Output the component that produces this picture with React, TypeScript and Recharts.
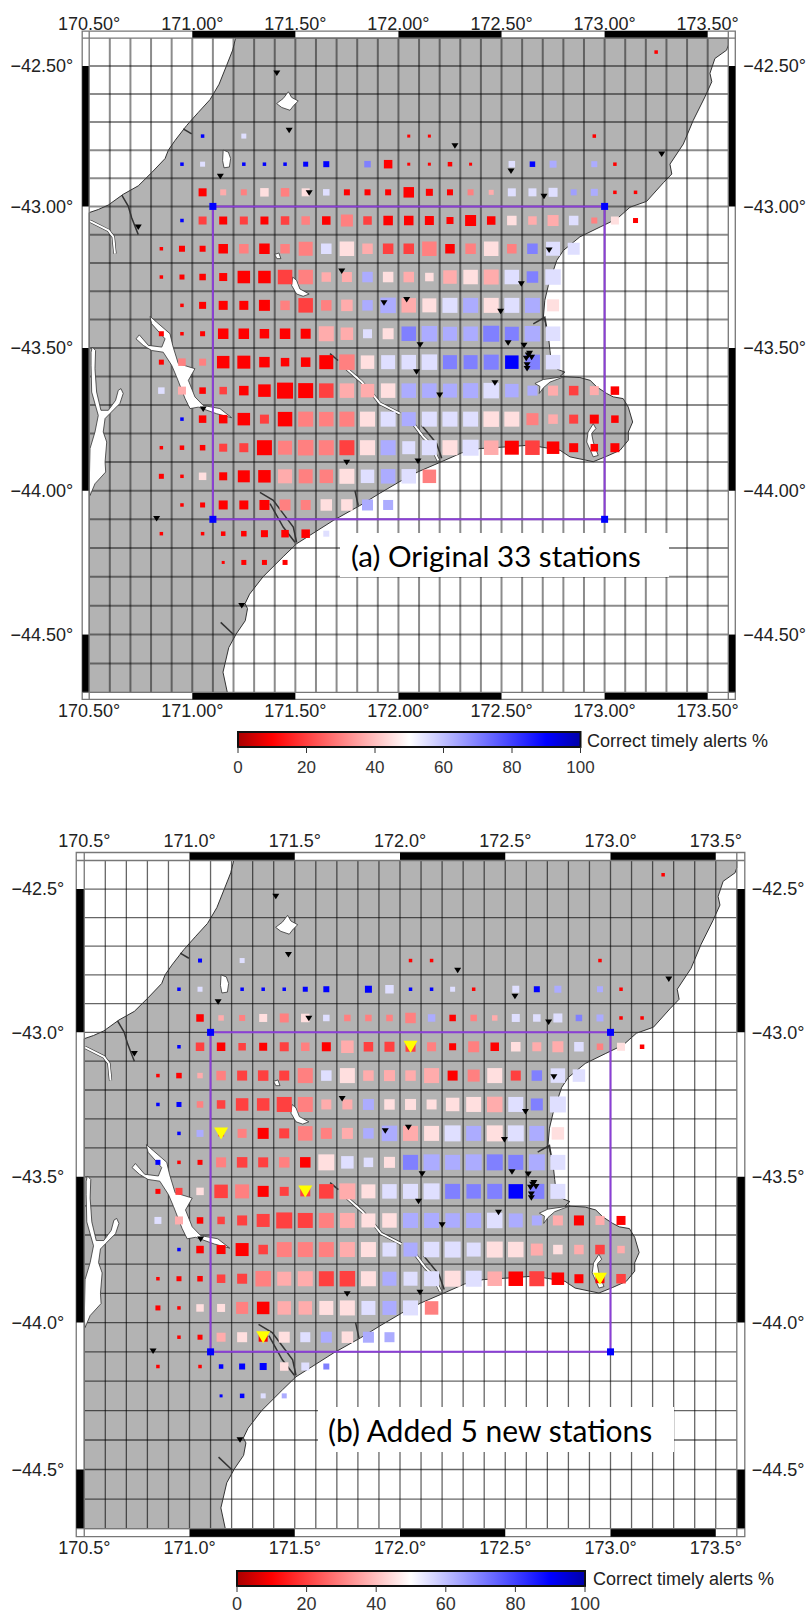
import { ReferenceArea, Scatter, ScatterChart, XAxis, YAxis } from "recharts";

// Map is a GMT Mercator plot: longitudes are linear, latitudes go through toY().
const toY = (lat: number) => -Math.log(Math.tan(Math.PI / 4 + (Math.abs(lat) * Math.PI) / 360));

const LON_MIN = 170.5;
const LON_MAX = 173.6;
const LAT_TOP = -42.4;
const LAT_BOTTOM = -44.7;

const LON_TICKS = [170.5, 171, 171.5, 172, 172.5, 173, 173.5];
const LAT_TICKS = [-42.5, -43, -43.5, -44, -44.5];
const LON_BLACK = [[171, 171.5], [172, 172.5], [173, 173.5]];
const LAT_BLACK = [[-42.5, -43], [-43.5, -44], [-44.5, -44.7]];
const GRID_LONS = [170.6, 170.7, 170.8, 170.9, 171, 171.1, 171.2, 171.3, 171.4, 171.5, 171.6, 171.7, 171.8, 171.9, 172, 172.1, 172.2, 172.3, 172.4, 172.5, 172.6, 172.7, 172.8, 172.9, 173, 173.1, 173.2, 173.3, 173.4, 173.5];
const GRID_LATS = [-42.5, -42.6, -42.7, -42.8, -42.9, -43, -43.1, -43.2, -43.3, -43.4, -43.5, -43.6, -43.7, -43.8, -43.9, -44, -44.1, -44.2, -44.3, -44.4, -44.5, -44.6];

const COLORBAR_TICKS = [0, 20, 40, 60, 80, 100];
const COLOR_STOPS: [number, number[]][] = [
  [0, [168, 0, 0]],
  [10, [255, 0, 0]],
  [50, [255, 255, 255]],
  [90, [0, 0, 255]],
  [100, [0, 0, 168]],
];

// [lon, lat]
const LAND: number[][] = [
  [171.21, -42.4], [171.196, -42.443], [171.167, -42.497], [171.13, -42.565], [171.086, -42.62], [171.03, -42.665], [170.973, -42.712], [170.916, -42.766], [170.884, -42.8], [170.868, -42.83], [170.803, -42.88], [170.738, -42.927], [170.665, -42.957], [170.593, -42.995], [170.544, -43.011], [170.5, -43.022],
  [170.5, -44.7], [171.17, -44.7], [171.149, -44.63], [171.177, -44.545], [171.213, -44.498], [171.257, -44.452], [171.268, -44.41], [171.256, -44.393], [171.278, -44.36], [171.343, -44.3], [171.441, -44.23], [171.506, -44.185], [171.684, -44.104], [171.813, -44.052], [171.91, -44.009], [172.007, -43.968], [172.096, -43.934], [172.193, -43.904], [172.307, -43.868], [172.395, -43.853], [172.525, -43.847], [172.638, -43.841], [172.784, -43.859], [172.832, -43.882], [172.945, -43.899], [173.01, -43.88], [173.075, -43.859], [173.115, -43.824], [173.115, -43.795], [173.136, -43.76], [173.115, -43.708], [173.09, -43.678], [173.042, -43.672], [173.01, -43.66], [172.962, -43.637], [172.93, -43.614], [172.88, -43.604], [172.784, -43.6], [172.807, -43.585], [172.775, -43.576], [172.743, -43.561], [172.735, -43.509], [172.727, -43.456], [172.71, -43.403], [172.703, -43.392], [172.71, -43.332], [172.727, -43.28], [172.768, -43.191], [172.8, -43.156], [172.88, -43.108], [172.978, -43.073], [173.06, -43.044], [173.123, -43.003], [173.204, -42.982], [173.285, -42.916], [173.326, -42.885], [173.317, -42.85], [173.382, -42.778], [173.43, -42.694], [173.487, -42.61], [173.52, -42.556], [173.511, -42.526], [173.535, -42.473], [173.592, -42.443], [173.6, -42.425], [173.6, -42.4],
];

const LAKES: number[][][] = [
  [[171.409, -42.634], [171.441, -42.616], [171.466, -42.592], [171.482, -42.612], [171.514, -42.625], [171.493, -42.64], [171.474, -42.658], [171.434, -42.648]],
  [[171.15, -42.8], [171.175, -42.807], [171.186, -42.83], [171.18, -42.86], [171.154, -42.863], [171.147, -42.837]],
  [[171.487, -43.25], [171.506, -43.262], [171.522, -43.292], [171.567, -43.31], [171.538, -43.318], [171.506, -43.31], [171.482, -43.28]],
  [[171.4, -43.17], [171.42, -43.165], [171.43, -43.185], [171.41, -43.185]],
  [[170.795, -43.389], [170.827, -43.409], [170.892, -43.45], [170.905, -43.491], [170.932, -43.555], [171.013, -43.573], [170.981, -43.614], [171.013, -43.672], [171.053, -43.702], [171.134, -43.713], [171.191, -43.745], [171.118, -43.731], [171.029, -43.708], [170.989, -43.713], [170.965, -43.678], [170.924, -43.602], [170.9, -43.561], [170.859, -43.515], [170.803, -43.509], [170.762, -43.491], [170.727, -43.468], [170.743, -43.454], [170.787, -43.491], [170.852, -43.497], [170.868, -43.468], [170.803, -43.415]],
  [[170.515, -43.497], [170.531, -43.509], [170.528, -43.573], [170.536, -43.655], [170.557, -43.719], [170.593, -43.719], [170.628, -43.684], [170.641, -43.649], [170.654, -43.643], [170.665, -43.66], [170.649, -43.695], [170.601, -43.73], [170.577, -43.748], [170.568, -43.795], [170.585, -43.83], [170.577, -43.9], [170.58, -43.935], [170.528, -43.976], [170.504, -44.017], [170.5, -43.988], [170.504, -43.853], [170.528, -43.795], [170.544, -43.737], [170.512, -43.655], [170.509, -43.561], [170.509, -43.515]],
  [[172.662, -43.625], [172.703, -43.611], [172.808, -43.6], [172.735, -43.62], [172.703, -43.64], [172.683, -43.66], [172.686, -43.635]],
  [[172.945, -43.766], [172.958, -43.783], [172.937, -43.8], [172.945, -43.83], [172.969, -43.877], [172.945, -43.882], [172.913, -43.83], [172.92, -43.795]],
];

const WIDE_RIVERS: number[][][] = [
  [[170.504, -43.052], [170.593, -43.085], [170.617, -43.108], [170.625, -43.167]],
  [[171.749, -43.573], [171.822, -43.62], [171.878, -43.666], [171.91, -43.695], [172.007, -43.731]],
  [[172.072, -43.766], [172.12, -43.812], [172.153, -43.835], [172.193, -43.894]],
];

const THIN_RIVERS: number[][][] = [
  [[170.658, -42.96], [170.69, -43.0], [170.706, -43.04], [170.738, -43.1]],
  [[170.956, -42.724], [170.997, -42.742]],
  [[172.113, -43.772], [172.185, -43.835], [172.21, -43.887]],
  [[171.328, -44.006], [171.393, -44.034], [171.441, -44.08], [171.49, -44.127], [171.506, -44.18]],
  [[171.377, -44.045], [171.441, -44.127], [171.498, -44.18]],
  [[171.789, -44.0], [171.805, -44.052]],
  [[171.668, -43.52], [171.707, -43.544]],
  [[172.654, -43.415], [172.71, -43.392], [172.719, -43.43]],
  [[171.138, -44.458], [171.2, -44.5]],
];

const BOX = [[171.1, -43.0], [173.0, -43.0], [173.0, -44.1], [171.1, -44.1], [171.1, -43.0]];
const BOX_CORNERS = [[171.1, -43.0], [173.0, -43.0], [173.0, -44.1], [171.1, -44.1]];

const STATIONS = [
  [171.41, -42.526], [171.47, -42.73], [171.136, -42.894], [171.567, -42.952], [170.738, -43.074], [171.725, -43.23], [171.93, -43.342], [172.04, -43.33], [172.274, -42.785], [172.546, -42.875], [173.277, -42.815], [172.706, -42.965], [172.731, -43.155], [172.596, -43.275], [172.496, -43.372], [171.053, -43.715], [171.749, -43.902], [170.827, -44.098], [172.105, -43.49], [172.532, -43.483], [172.609, -43.491], [172.63, -43.526], [172.646, -43.534], [172.62, -43.537], [172.636, -43.52], [172.624, -43.56], [172.624, -43.573], [172.088, -43.585], [172.468, -43.623], [172.2, -43.666], [172.095, -43.897], [171.24, -44.4],
];
const NEW_STATIONS = [[172.05, -43.05], [171.15, -43.35], [171.55, -43.55], [171.35, -44.05], [172.95, -43.85]];

const _ = null;
type Row = [number, number, (number | null)[], (number | null)[]];
// lat, first lon, correct timely alerts %, symbol weight
const ROWS_A: Row[] = [
  [-42.45, 173.25, [10], [3.5]],
  [-42.75, 171.05, [90, _, 55, _, _, _, _, _, _, _, 10, 10, _, _, _, _, _, _, _, 10], [3.5, _, 5, _, _, _, _, _, _, _, 3, 3, _, _, _, _, _, _, _, 3.5]],
  [-42.85, 170.95, [90, 55, _, 90, 90, 90, 90, 90, _, 70, 10, 10, 10, 10, 10, _, 55, 90, 63, _, 63, 10], [3.5, 5, _, 3.5, 3.5, 3.5, 5, 6, _, 6.5, 8.5, 3, 3, 4.5, 3, _, 6.5, 5.5, 7, _, 6, 3.5]],
  [-42.95, 171.05, [10, 37, 30, 45, 30, 45, 55, 10, 10, 10, 10, 10, 10, 30, 37, 55, 55, 55, 65, 63, 10, 10], [8, 6, 6, 8.5, 8.5, 8, 6.5, 6, 6, 6, 10.5, 7, 6, 6, 5, 8, 8, 9, 6, 7, 3.5, 3.5]],
  [-43.05, 170.95, [90, 20, 10, 20, 10, 20, 30, 10, 30, 20, 10, 10, 10, 10, 10, 10, 45, 37, 37, 55, 30, 45, 10], [3.5, 8, 8, 8, 8, 8.5, 8.5, 8.5, 12, 8.5, 9.5, 9.5, 9, 7, 11, 8.5, 9.5, 8.5, 11, 9.5, 6, 8, 5]],
  [-43.15, 170.85, [10, 10, 10, 10, 30, 10, 30, 30, 55, 45, 37, 20, 20, 30, 10, 30, 45, 30, 70, 55, 55], [3.5, 6, 6, 9.5, 9.5, 10.5, 9.5, 14, 10.5, 14.5, 10.5, 10.5, 10.5, 14.5, 9.5, 10.5, 14.5, 9.5, 10.5, 14, 12]],
  [-43.25, 170.85, [10, 10, 10, 10, 10, 10, 20, 30, 37, 37, 63, 45, 37, 45, 37, 45, 37, 55, 70, 55], [3.5, 5, 6.5, 8, 12.5, 12.5, 14.5, 14.5, 9.5, 10, 10.5, 10.5, 10.5, 8.5, 13.5, 14.5, 15, 14.5, 11.5, 15.5]],
  [-43.35, 170.95, [10, 10, 10, 10, 10, 30, 20, 30, 37, 63, 63, 37, 45, 55, 63, 45, 55, 63, 45], [3.5, 7, 9, 9, 11, 9.5, 14.5, 10.5, 11.5, 10.5, 15.5, 14.5, 14, 15, 15, 15, 15, 15, 12]],
  [-43.45, 170.85, [10, 10, 10, 10, 10, 10, 10, 10, 37, 37, 55, 45, 70, 63, 63, 63, 70, 70, 63, 55], [5, 3.5, 5, 10.5, 10.5, 9.5, 10.5, 10, 15, 12.5, 9, 11, 14.5, 15.5, 14, 14.5, 16, 14, 15.5, 14.5]],
  [-43.55, 170.85, [10, 30, 30, 10, 10, 10, 10, 10, 10, 30, 45, 55, 55, 55, 70, 70, 70, 90, 70, 55], [5, 7.5, 7, 12.5, 13, 10.5, 8.5, 9.5, 14, 15.5, 13.5, 14, 14.5, 15.5, 14, 14, 15, 13.5, 15, 14.5]],
  [-43.65, 170.85, [55, 37, 10, 20, 10, 10, 10, 10, 20, 37, 37, 45, 63, 63, 63, 63, 55, 63, 63, 37, 20, 37, 10], [6.5, 8, 6.5, 7.5, 9.5, 12.5, 16, 15, 14.5, 14.5, 13.5, 14.5, 14.5, 14.5, 14, 15, 15.5, 13.5, 10, 10, 9.5, 9, 8.5]],
  [-43.75, 170.95, [90, 10, 10, 10, 20, 10, 30, 30, 30, 45, 55, 63, 55, 55, 55, 45, 45, 30, 37, 20, 10, 10], [3.5, 7.5, 8.5, 12.5, 9, 14.5, 15, 14.5, 15, 15, 15, 14, 15, 15, 15, 15.5, 15, 12, 9.5, 9, 9, 7.5]],
  [-43.85, 170.85, [10, 10, 10, 20, 20, 10, 30, 30, 30, 20, 45, 63, 55, 55, 45, 55, 37, 10, 20, 10, 10, 10, 10], [3.5, 4.5, 5.5, 8, 9, 15, 14, 15.5, 15, 15, 15, 15, 13, 15, 15, 16, 14.5, 14, 14.5, 12.5, 9, 7.5, 9]],
  [-43.95, 170.85, [10, 10, 45, 10, 10, 10, 37, 30, 30, 45, 55, 63, 55, 30], [5, 3.5, 7.5, 8, 12, 12.5, 14, 14, 13.5, 15, 13.5, 14.5, 14.5, 13.5]],
  [-44.05, 170.95, [10, 10, 10, 10, 10, 30, 30, 45, 45, 63, 63], [3.5, 5, 9, 9, 10, 11, 10, 11.5, 11.5, 11, 10]],
  [-44.15, 170.85, [10, _, 10, 10, 10, 10, 10, 10, 55], [3.5, _, 3.5, 4.5, 5.5, 7, 7.5, 8.5, 6]],
  [-44.25, 171.15, [10, 10, 10, 10], [3, 5, 5, 5]],
];

const ROWS_B: Row[] = [
  [-42.45, 173.25, [10], [3.5]],
  [-42.75, 171.05, [90, _, 55, _, _, _, _, _, _, _, 10, 10, _, _, _, _, _, _, _, 10], [4, _, 5, _, _, _, _, _, _, _, 3.5, 3.5, _, _, _, _, _, _, _, 3.5]],
  [-42.85, 170.95, [90, 55, _, 90, 90, 90, 90, 90, _, 90, 55, 90, 90, 55, 10, _, 55, 90, 63, _, 63, 10], [3.5, 5, _, 3.5, 3.5, 3.5, 5, 6, _, 7, 8.5, 3.5, 3.5, 5, 3.5, _, 7, 6, 7, _, 6, 3.5]],
  [-42.95, 171.05, [10, 37, 30, 45, 30, 45, 55, 30, 30, 30, 30, 63, 10, 30, 37, 55, 55, 55, 70, 63, 10, 10], [7.5, 5.5, 6, 8, 9, 8.5, 6.5, 6.5, 6.5, 6.5, 10.5, 7.5, 6.5, 6.5, 5.5, 8, 7.5, 9, 6.5, 7, 3.5, 3.5]],
  [-43.05, 170.95, [90, 20, 10, 20, 10, 20, 30, 10, 37, 20, 20, 20, 30, 10, 30, 10, 45, 37, 37, 55, 30, 45, 10], [3.5, 8.5, 8.5, 7.5, 8, 9, 8.5, 9, 12.5, 9.5, 10, 10, 9, 7, 11, 8.5, 9.5, 9, 11, 9.5, 6.5, 8, 4.5]],
  [-43.15, 170.85, [10, 10, 37, 30, 20, 20, 20, 30, 55, 45, 37, 37, 37, 37, 10, 30, 45, 20, 70, 55, 55], [3.5, 5.5, 5.5, 9.5, 10, 10.5, 10, 15, 10.5, 15, 10.5, 11, 10.5, 15, 10, 12, 15, 10, 10.5, 14.5, 12.5]],
  [-43.25, 170.85, [90, 90, 30, 20, 20, 20, 20, 30, 37, 37, 63, 45, 45, 45, 45, 45, 37, 55, 70, 55], [3.5, 5, 6.5, 8.5, 12.5, 12.5, 15, 15, 10, 10, 11, 10.5, 11, 10, 13.5, 15, 15.5, 15, 12, 16]],
  [-43.35, 170.95, [90, 63, 20, 30, 10, 20, 30, 30, 37, 63, 63, 37, 45, 55, 63, 45, 55, 63, 45], [3.5, 7, 6, 9, 11, 10, 14.5, 11, 11, 10.5, 15.5, 15, 15, 16, 15, 16, 16, 15, 12.5]],
  [-43.45, 170.85, [90, 10, 10, 30, 20, 20, 30, 10, 45, 55, 55, 45, 70, 63, 63, 63, 70, 70, 63, 55], [5, 3.5, 5, 10, 10.5, 10, 10.5, 10.5, 16, 12.5, 9.5, 11, 15, 16, 15, 16, 16, 15, 16, 15]],
  [-43.55, 170.85, [10, 20, 45, 20, 30, 10, 20, 20, 20, 37, 45, 55, 55, 55, 70, 70, 70, 90, 70, 55], [5, 7, 7.5, 13.5, 14, 11, 9, 10, 14.5, 16, 14, 14.5, 15, 16, 15, 14.5, 15, 14.5, 15, 15]],
  [-43.65, 170.85, [55, 37, 10, 20, 20, 20, 20, 20, 30, 37, 45, 45, 63, 63, 63, 63, 55, 63, 63, 37, 10, 37, 10], [7, 8, 6.5, 7.5, 10, 13, 16, 15, 15, 15, 14, 14.5, 15, 15, 14.5, 15, 15.5, 14, 10, 10, 10, 9, 9]],
  [-43.75, 170.95, [90, 10, 10, 10, 20, 30, 30, 30, 37, 45, 55, 63, 55, 55, 55, 45, 45, 37, 45, 37, 20, 37], [3.5, 7.5, 9, 13, 9.5, 15, 15, 15, 15, 15, 14, 14, 15.5, 16, 14, 16, 15.5, 12, 9.5, 9.5, 9.5, 7.5]],
  [-43.85, 170.85, [10, 10, 10, 20, 20, 30, 37, 37, 20, 20, 45, 63, 55, 55, 45, 55, 37, 10, 20, 10, 10, 10, 20], [3.5, 5, 5.5, 8.5, 10, 15.5, 14, 15, 15, 15.5, 15, 14, 14, 15, 16, 16, 14.5, 14.5, 15, 12.5, 9, 9, 9.5]],
  [-43.95, 170.85, [10, 10, 45, 45, 30, 10, 37, 37, 45, 45, 55, 63, 55, 30], [5, 3.5, 7.5, 8, 12, 12.5, 13.5, 13.5, 14, 15, 14, 14, 15, 13.5]],
  [-44.05, 170.95, [10, 10, 37, 45, 10, 45, 55, 63, 45, 63, 63], [3.5, 5, 9, 10, 9, 11, 10, 11, 11.5, 11, 10]],
  [-44.15, 170.85, [10, _, 10, 90, 90, 90, 45, 55, 70], [3.5, _, 3.5, 4.5, 6, 7, 8.5, 8, 6]],
  [-44.25, 171.15, [90, 90, 55, 63], [3, 4.5, 5, 5]],
];

function pctColor(v: number): string {
  for (let i = 1; i < COLOR_STOPS.length; i++) {
    const [p0, c0] = COLOR_STOPS[i - 1];
    const [p1, c1] = COLOR_STOPS[i];
    if (v <= p1) {
      const t = (v - p0) / (p1 - p0);
      return `rgb(${c0.map((c, k) => Math.round(c + (c1[k] - c) * t)).join(",")})`;
    }
  }
  return "#0000a8";
}

const pts = (list: number[][]) => list.map(([lon, lat]) => ({ lon, y: toY(lat) }));

function cells(rows: Row[]) {
  const out: { lon: number; y: number; pct: number; side: number }[] = [];
  for (const [lat, lon0, pct, side] of rows) {
    pct.forEach((p, i) => {
      if (p !== null) out.push({ lon: lon0 + i * 0.1, y: toY(lat), pct: p, side: side[i] as number });
    });
  }
  return out;
}

const noDot = () => <g />;

const polygon = (fill: string, stroke: string, sw: number) => (props: any) => {
  if (!props.points || props.points.length === 0) return <g />;
  const d = "M" + props.points.map((p: any) => `${p.x},${p.y}`).join("L") + "Z";
  return <path d={d} fill={fill} stroke={stroke} strokeWidth={sw} strokeLinejoin="round" />;
};

const square = (p: any) => {
  const s = p.payload.side;
  return <rect x={p.cx - s / 2} y={p.cy - s / 2} width={s} height={s} fill={pctColor(p.payload.pct)} />;
};

const triangle = (w: number, h: number, fill: string) => (p: any) => (
  <path d={`M${p.cx - w / 2},${p.cy - h / 2}L${p.cx + w / 2},${p.cy - h / 2}L${p.cx},${p.cy + h / 2}Z`} fill={fill} />
);

const corner = (p: any) => <rect x={p.cx - 3.5} y={p.cy - 3.5} width={7} height={7} fill="#0000ff" />;

const TICK = { fontSize: 18, fill: "#222", fontFamily: "'Liberation Sans', Arial, sans-serif" };

interface MapProps {
  top: number;
  height: number;
  x0: number; // pixel of LON_MIN
  y0: number; // pixel of LAT_TOP
  k: number; // pixels per degree of longitude
  band: number;
  digits: number;
  rows: Row[];
  extra?: number[][];
  grid: [string, number];
  gaps: { top: number; bottom: number; left: number; right: number };
}

function MapPanel({ top, height, x0, y0, k, band, digits, rows, extra, grid, gaps }: MapProps) {
  const width = 810;
  const kMerc = (k * 180) / Math.PI;
  const bandLon = band / k;
  const bandY = band / kMerc;
  const bandLat = band / (k * 1.37);
  const yLo = toY(LAT_BOTTOM);
  const yHi = toY(LAT_TOP);
  const left = x0 - band;
  const plotW = (LON_MAX - LON_MIN) * k + 2 * band;
  const topPad = y0 - band - top;
  const plotH = (yHi - yLo) * kMerc + 2 * band;
  const xDomain = [LON_MIN - bandLon, LON_MAX + bandLon];
  const yDomain = [yLo - bandY, yHi + bandY];
  const ax = { xAxisId: "b", yAxisId: "l" };
  const lonLabel = (v: number) => `${v.toFixed(digits)}°`;
  const latLabel = (_v: number, i: number) => `−${Math.abs(LAT_TICKS[i]).toFixed(digits)}°`;

  const seg = (key: string, list: number[][], stroke: string, w: number) => (
    <Scatter key={key} {...ax} data={pts(list)} shape={noDot} line={{ stroke, strokeWidth: w, fill: "none" }} isAnimationActive={false} />
  );

  return (
    <div style={{ position: "absolute", left: 0, top, width, height }}>
      <ScatterChart width={width} height={height} margin={{ top: 0, right: 0, bottom: 0, left: 0 }}>
        <XAxis xAxisId="t" orientation="top" type="number" dataKey="lon" domain={xDomain} ticks={LON_TICKS} height={topPad} interval={0}
          axisLine={false} tickLine={false} tickSize={0} tickMargin={gaps.top} tick={TICK} tickFormatter={lonLabel} allowDataOverflow />
        <XAxis xAxisId="b" orientation="bottom" type="number" dataKey="lon" domain={xDomain} ticks={LON_TICKS} height={height - topPad - plotH} interval={0}
          axisLine={false} tickLine={false} tickSize={0} tickMargin={gaps.bottom} tick={TICK} tickFormatter={lonLabel} allowDataOverflow />
        <YAxis yAxisId="l" orientation="left" type="number" dataKey="y" domain={yDomain} ticks={LAT_TICKS.map(toY)} width={left} interval={0}
          axisLine={false} tickLine={false} tickSize={0} tickMargin={gaps.left} tick={TICK} tickFormatter={latLabel} allowDataOverflow />
        <YAxis yAxisId="r" orientation="right" type="number" dataKey="y" domain={yDomain} ticks={LAT_TICKS.map(toY)} width={width - left - plotW} interval={0}
          axisLine={false} tickLine={false} tickSize={0} tickMargin={gaps.right} tick={TICK} tickFormatter={latLabel} allowDataOverflow />

        {/* keeps the top and right axes tied to a series */}
        <Scatter xAxisId="t" yAxisId="r" data={pts(BOX_CORNERS)} shape={noDot} isAnimationActive={false} />

        <Scatter {...ax} data={pts(LAND)} shape={noDot} line={polygon("#b3b3b3", "none", 0)} isAnimationActive={false} />

        {GRID_LONS.map((lon) => seg(`gx${lon}`, [[lon, LAT_TOP], [lon, LAT_BOTTOM]], grid[0], grid[1]))}
        {GRID_LATS.map((lat) => seg(`gy${lat}`, [[LON_MIN, lat], [LON_MAX, lat]], grid[0], grid[1]))}

        {LAKES.map((lake, i) => (
          <Scatter key={`lake${i}`} {...ax} data={pts(lake)} shape={noDot} line={polygon("#ffffff", "#333", 0.8)} isAnimationActive={false} />
        ))}
        {WIDE_RIVERS.map((r, i) => seg(`wb${i}`, r, "#333", 3.2))}
        {WIDE_RIVERS.map((r, i) => seg(`ww${i}`, r, "#fff", 2))}
        {THIN_RIVERS.map((r, i) => seg(`rb${i}`, r, "#333", 1.5))}
        <Scatter {...ax} data={pts(LAND)} shape={noDot} line={polygon("none", "#333", 1)} isAnimationActive={false} />

        {/* Frame: outer box, inner box, alternating black bars */}
        <ReferenceArea xAxisId="b" yAxisId="l" x1={xDomain[0]} x2={xDomain[1]} y1={yDomain[0]} y2={yDomain[1]} fill="none" stroke="#777" strokeWidth={1.3} ifOverflow="visible" />
        {LON_BLACK.map(([a, b]) => (
          <ReferenceArea key={`tb${a}`} xAxisId="b" yAxisId="l" x1={a} x2={b} y1={yHi} y2={yDomain[1]} fill="#000" fillOpacity={1} stroke="none" ifOverflow="visible" />
        ))}
        {LON_BLACK.map(([a, b]) => (
          <ReferenceArea key={`bb${a}`} xAxisId="b" yAxisId="l" x1={a} x2={b} y1={yDomain[0]} y2={yLo} fill="#000" fillOpacity={1} stroke="none" ifOverflow="visible" />
        ))}
        {LAT_BLACK.map(([a, b]) => (
          <ReferenceArea key={`lb${a}`} xAxisId="b" yAxisId="l" x1={xDomain[0]} x2={LON_MIN} y1={toY(a)} y2={toY(b)} fill="#000" fillOpacity={1} stroke="none" ifOverflow="visible" />
        ))}
        {LAT_BLACK.map(([a, b]) => (
          <ReferenceArea key={`rb${a}`} xAxisId="b" yAxisId="l" x1={LON_MAX} x2={xDomain[1]} y1={toY(a)} y2={toY(b)} fill="#000" fillOpacity={1} stroke="none" ifOverflow="visible" />
        ))}
        {seg("e1", [[LON_MIN, LAT_TOP + bandLat], [LON_MIN, LAT_BOTTOM - bandLat]], "#777", 1.3)}
        {seg("e2", [[LON_MAX, LAT_TOP + bandLat], [LON_MAX, LAT_BOTTOM - bandLat]], "#777", 1.3)}
        {seg("e3", [[LON_MIN - bandLon, LAT_TOP], [LON_MAX + bandLon, LAT_TOP]], "#777", 1.3)}
        {seg("e4", [[LON_MIN - bandLon, LAT_BOTTOM], [LON_MAX + bandLon, LAT_BOTTOM]], "#777", 1.3)}

        {seg("box", BOX, "#8b3fd6", 2)}
        <Scatter {...ax} data={cells(rows)} shape={square} isAnimationActive={false} />
        <Scatter {...ax} data={pts(STATIONS)} shape={triangle(7, 5.5, "#000")} isAnimationActive={false} />
        {extra && <Scatter {...ax} data={pts(extra)} shape={triangle(14, 12, "#ffff00")} isAnimationActive={false} />}
        <Scatter {...ax} data={pts(BOX_CORNERS)} shape={corner} isAnimationActive={false} />
      </ScatterChart>
    </div>
  );
}

function ColorBar({ id, left, top, width, fontSize, gap }: { id: string; left: number; top: number; width: number; fontSize: number; gap: number }) {
  return (
    <div style={{ position: "absolute", left: left - 30, top: top - 5, width: width + 60, height: 56 }}>
      <ScatterChart width={width + 60} height={56} margin={{ top: 5, right: 30, bottom: 0, left: 30 }}>
        <defs>
          <linearGradient id={id} x1="0" y1="0" x2="1" y2="0">
            {COLOR_STOPS.map(([p, c]) => (
              <stop key={p} offset={`${p}%`} stopColor={`rgb(${c.join(",")})`} />
            ))}
          </linearGradient>
        </defs>
        <XAxis type="number" dataKey="v" domain={[0, 100]} ticks={COLORBAR_TICKS} height={36} interval={0} axisLine={false}
          tickLine={{ stroke: "#333" }} tickSize={6} tickMargin={gap} tick={{ ...TICK, fontSize, fill: "#333" }} />
        <YAxis type="number" dataKey="w" domain={[0, 1]} hide />
        <Scatter data={COLORBAR_TICKS.map((v) => ({ v, w: 0 }))} shape={noDot} isAnimationActive={false} />
        <ReferenceArea x1={0} x2={100} y1={0} y2={1} fill={`url(#${id})`} fillOpacity={1} stroke="#111" strokeWidth={2} ifOverflow="visible" />
      </ScatterChart>
    </div>
  );
}

const noteStyle: React.CSSProperties = {
  position: "absolute",
  background: "#fff",
  fontFamily: "Lato, 'Open Sans', sans-serif",
  color: "#000",
  whiteSpace: "nowrap",
  display: "flex",
  alignItems: "center",
};

const legendStyle: React.CSSProperties = {
  position: "absolute",
  fontFamily: "'Liberation Sans', Arial, sans-serif",
  fontSize: 18,
  color: "#222",
  whiteSpace: "nowrap",
  lineHeight: "20px",
};

export default function App() {
  return (
    <div style={{ position: "absolute", left: 0, top: 0, width: 810, height: 1617, background: "#fff", overflow: "hidden" }}>
      <MapPanel top={0} height={725} x0={89.2} y0={38.1} k={206.16} band={7} digits={2} rows={ROWS_A} grid={["rgba(0,0,0,0.45)", 2]} gaps={{ top: 1, bottom: 5, left: 9, right: 8 }} />
      <ColorBar id="cbarA" left={238} top={732} width={342.5} fontSize={17} gap={8} />
      <div style={{ ...legendStyle, left: 587, top: 731 }}>Correct timely alerts %</div>
      <div style={{ ...noteStyle, left: 340, top: 533, width: 329, height: 44, fontSize: 29.5, paddingLeft: 11, boxSizing: "border-box" }}>(a) Original 33 stations</div>

      <MapPanel top={805} height={765} x0={84.25} y0={860.5} k={210.5} band={8} digits={1} rows={ROWS_B} extra={NEW_STATIONS} grid={["rgba(0,0,0,0.6)", 1.3]} gaps={{ top: 5.5, bottom: 4.5, left: 12, right: 7 }} />
      <ColorBar id="cbarB" left={236.5} top={1570.7} width={348} fontSize={18} gap={5} />
      <div style={{ ...legendStyle, left: 593, top: 1569 }}>Correct timely alerts %</div>
      <div style={{ ...noteStyle, left: 318, top: 1407, width: 356, height: 45, fontSize: 30, paddingLeft: 10, boxSizing: "border-box" }}>(b) Added 5 new stations</div>
    </div>
  );
}
